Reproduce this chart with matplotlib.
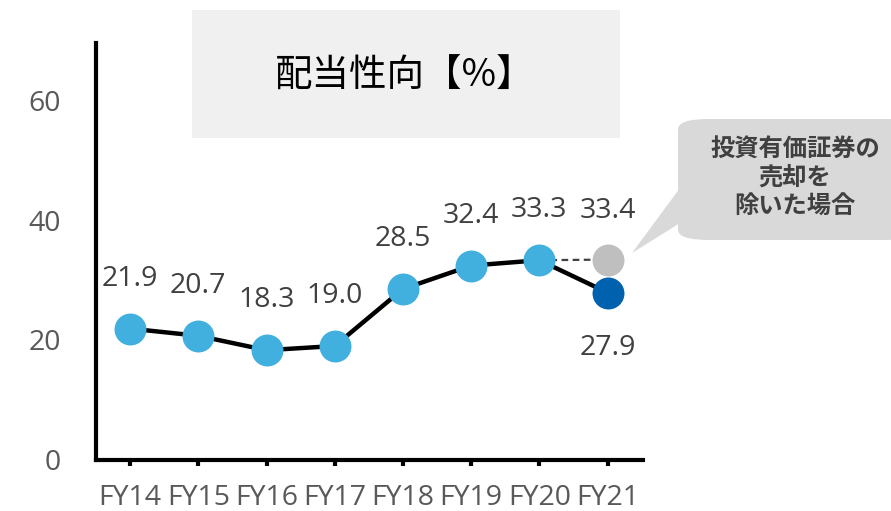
import matplotlib
matplotlib.use("Agg")
import matplotlib.pyplot as plt
from matplotlib.patches import Rectangle, FancyBboxPatch, Polygon

plt.rcParams['font.family'] = ['Open Sans', 'DejaVu Sans', 'Noto Sans CJK JP']

categories = ["FY14", "FY15", "FY16", "FY17", "FY18", "FY19", "FY20", "FY21"]
values = [21.9, 20.7, 18.3, 19.0, 28.5, 32.4, 33.3, 27.9]
excl_value = 33.4  # FY21 excluding sale of investment securities
yticks = [0, 20, 40, 60]
title = "配当性向【%】"
callout = "投資有価証券の\n売却を\n除いた場合"

light_blue = "#41b0de"
dark_blue = "#0062ae"
gray_pt = "#bfbfbf"
text_gray = "#595959"
label_gray = "#404040"

W, H = 891, 511
fig = plt.figure(figsize=(W / 100, H / 100), dpi=100)
ax = fig.add_axes([96 / W, 1 - 460 / H, (643 - 96) / W, (460 - 43) / H])

x = list(range(len(categories)))
ax.plot(x, values, color="black", lw=3.2, zorder=2, solid_capstyle="butt")
ax.plot([x[-2], x[-1]], [values[-2], excl_value], color="#404040", lw=1.6,
        ls=(0, (3, 2)), zorder=1)
ax.plot(x[:-1], values[:-1], "o", ms=23, color=light_blue, mec="none", zorder=3)
ax.plot([x[-1]], [values[-1]], "o", ms=23, color=dark_blue, mec="none", zorder=3)
ax.plot([x[-1]], [excl_value], "o", ms=23, color=gray_pt, mec="none", zorder=3)

fs = 20.5
for xi, v in zip(x[:-1], values[:-1]):
    ax.annotate(f"{v:.1f}", (xi, v), xytext=(0, 36), textcoords="offset points",
                ha="center", va="center", fontsize=fs, color=label_gray)
ax.annotate(f"{excl_value:.1f}", (x[-1], excl_value), xytext=(0, 35),
            textcoords="offset points", ha="center", va="center",
            fontsize=fs, color=label_gray)
ax.annotate(f"{values[-1]:.1f}", (x[-1], values[-1]), xytext=(0, -40),
            textcoords="offset points", ha="center", va="center",
            fontsize=fs, color=label_gray)

ax.set_xlim(-0.5, 7.52)
ax.set_ylim(0, 69.5)
ax.set_xticks(x)
ax.set_xticklabels(categories)
ax.set_yticks(yticks)
ax.tick_params(axis="x", length=4.5, width=3, pad=13, labelsize=fs,
               labelcolor=text_gray, color="black")
ax.tick_params(axis="y", length=0, pad=25, labelsize=fs, labelcolor=text_gray)
for s in ["top", "right"]:
    ax.spines[s].set_visible(False)
for s in ["left", "bottom"]:
    ax.spines[s].set_linewidth(3)
    ax.spines[s].set_color("black")

# Title box
fig.patches.append(Rectangle((192 / W, 1 - 138 / H), 428 / W, 128 / H,
                             transform=fig.transFigure, facecolor="#f0f0f0",
                             edgecolor="none", zorder=0))
fig.text(405 / W, 1 - 76 / H, title, ha="center", va="center", fontsize=27,
         color="black", family=['Noto Sans CJK JP', 'DejaVu Sans'])

# Callout
fig.patches.append(FancyBboxPatch((678 / W, 1 - 240 / H), 240 / W, 121 / H,
                                  boxstyle="round,pad=0,rounding_size=0.035",
                                  transform=fig.transFigure, facecolor="#d9d9d9",
                                  edgecolor="none", zorder=0, mutation_aspect=H / W))
fig.patches.append(Polygon([(680 / W, 1 - 188 / H), (632 / W, 1 - 253 / H),
                            (680 / W, 1 - 223 / H)], closed=True,
                           transform=fig.transFigure, facecolor="#d9d9d9",
                           edgecolor="none", zorder=0))
fig.text(795 / W, 1 - 178 / H, callout, ha="center", va="center", fontsize=17.5,
         fontweight="bold", color="#404040", linespacing=1.2,
         family=['Noto Sans CJK JP', 'DejaVu Sans'])

fig.savefig("out.png", dpi=100)
